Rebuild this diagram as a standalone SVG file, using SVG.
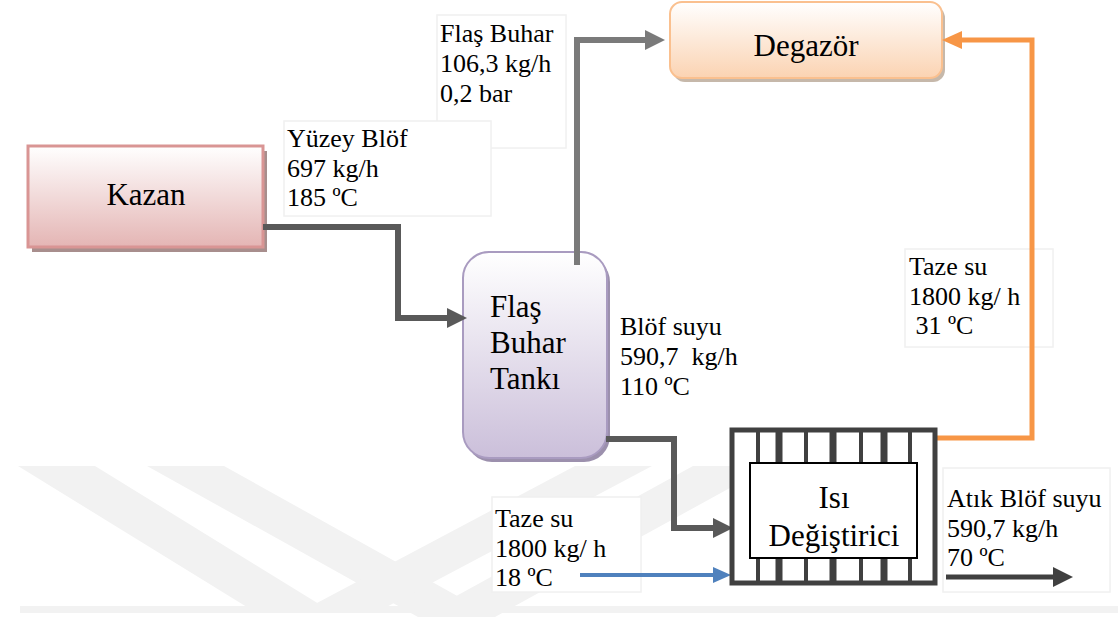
<svg xmlns="http://www.w3.org/2000/svg" width="1118" height="617" viewBox="0 0 1118 617">
<style>
.lbl{font-family:"Liberation Serif","Times New Roman",serif;font-size:26px;fill:#000}
.nd{font-family:"Liberation Serif","Times New Roman",serif;font-size:31px;fill:#000}
.lbox{fill:#fff;stroke:#f0f0f0;stroke-width:1.5}
.wm{fill:#f2f2f2}
.conn{fill:none;stroke-linejoin:miter}
</style>
<defs>
<linearGradient id="gKazan" x1="0" y1="0" x2="0" y2="1"><stop offset="0" stop-color="#ffffff"/><stop offset="1" stop-color="#e4b5b4"/></linearGradient>
<linearGradient id="gDeg" x1="0" y1="0" x2="0" y2="1"><stop offset="0" stop-color="#ffffff"/><stop offset="1" stop-color="#fbd3b2"/></linearGradient>
<linearGradient id="gTank" x1="0" y1="0" x2="0" y2="1"><stop offset="0" stop-color="#ffffff"/><stop offset="1" stop-color="#cbbfda"/></linearGradient>
<marker id="aDark" viewBox="0 0 20 20" refX="0" refY="10" markerWidth="20" markerHeight="20" markerUnits="userSpaceOnUse" orient="auto"><path d="M0,0 L20,10 L0,20 z" fill="#595959"/></marker>
<marker id="aMid" viewBox="0 0 20 20" refX="0" refY="10" markerWidth="20" markerHeight="20" markerUnits="userSpaceOnUse" orient="auto"><path d="M0,0 L20,10 L0,20 z" fill="#7a7a7a"/></marker>
<marker id="aOut" viewBox="0 0 20 20" refX="0" refY="10" markerWidth="20" markerHeight="20" markerUnits="userSpaceOnUse" orient="auto"><path d="M0,0 L20,10 L0,20 z" fill="#404040"/></marker>
<marker id="aOr" viewBox="0 0 20 18" refX="0" refY="9" markerWidth="20" markerHeight="18" markerUnits="userSpaceOnUse" orient="auto"><path d="M0,0 L20,9 L0,18 z" fill="#f79646"/></marker>
<marker id="aBl" viewBox="0 0 18 16" refX="0" refY="8" markerWidth="18" markerHeight="16" markerUnits="userSpaceOnUse" orient="auto"><path d="M0,0 L18,8 L0,16 z" fill="#4f81bd"/></marker>
</defs>

<g id="watermark">
<polygon class="wm" points="18,466 95,466 332,612 255,612"/>
<polygon class="wm" points="147,466 224,466 495,617 418,617"/>
<polygon class="wm" points="300,612 377,612 652,466 575,466"/>
<polygon class="wm" points="418,617 495,617 770,466 693,466"/>
<rect class="wm" x="20" y="606" width="1098" height="7"/>
</g>

<g id="labels">
<rect class="lbox" x="437" y="15" width="129" height="133"/>
<rect class="lbox" x="284" y="121" width="207" height="95"/>
<rect class="lbox" x="905" y="249" width="148" height="98"/>
<rect class="lbox" x="492" y="497" width="149" height="95"/>
<rect class="lbox" x="943" y="468" width="167" height="124"/>
<text class="lbl" x="440" y="42">Flaş Buhar</text>
<text class="lbl" x="440" y="72">106,3 kg/h</text>
<text class="lbl" x="440" y="102">0,2 bar</text>
<text class="lbl" x="287" y="147">Yüzey Blöf</text>
<text class="lbl" x="287" y="177">697 kg/h</text>
<text class="lbl" x="287" y="206">185 ºC</text>
<text class="lbl" x="620" y="335">Blöf suyu</text>
<text class="lbl" x="620" y="365" xml:space="preserve">590,7  kg/h</text>
<text class="lbl" x="620" y="395">110 ºC</text>
<text class="lbl" x="909" y="275">Taze su</text>
<text class="lbl" x="909" y="305">1800 kg/ h</text>
<text class="lbl" x="909" y="334" xml:space="preserve"> 31 ºC</text>
<text class="lbl" x="495" y="527">Taze su</text>
<text class="lbl" x="495" y="557">1800 kg/ h</text>
<text class="lbl" x="495" y="586">18 ºC</text>
<text class="lbl" x="947" y="507">Atık Blöf suyu</text>
<text class="lbl" x="947" y="537">590,7 kg/h</text>
<text class="lbl" x="947" y="566">70 ºC</text>
</g>

<g id="kazan">
<rect x="32" y="151" width="235" height="101" fill="#a88e8d"/>
<rect x="28" y="146" width="235" height="101" fill="url(#gKazan)" stroke="#d99594" stroke-width="3"/>
<text class="nd" x="146" y="205" text-anchor="middle">Kazan</text>
</g>

<g id="degazor">
<rect x="673" y="6" width="272" height="76" rx="12" fill="#c6b8aa"/>
<rect x="670" y="2" width="272" height="76" rx="12" fill="url(#gDeg)" stroke="#fac08f" stroke-width="2"/>
<text class="nd" x="806" y="56" text-anchor="middle">Degazör</text>
</g>

<g id="flas-tank">
<rect x="466" y="256" width="144" height="206" rx="26" fill="#9c90ad"/>
<rect x="463" y="252" width="144" height="206" rx="26" fill="url(#gTank)" stroke="#a99bc0" stroke-width="2"/>
<text class="nd" x="490" y="317">Flaş</text>
<text class="nd" x="490" y="353">Buhar</text>
<text class="nd" x="490" y="389">Tankı</text>
</g>

<g id="connectors">
<path class="conn" d="M263,227 H398 V318 H447" stroke="#595959" stroke-width="6" marker-end="url(#aDark)"/>
<path class="conn" d="M577,265 V40 H645" stroke="#7a7a7a" stroke-width="6" marker-end="url(#aMid)"/>
<path class="conn" d="M606,439 H674 V528 H713" stroke="#595959" stroke-width="6" marker-end="url(#aDark)"/>
<path class="conn" d="M580,575 H713" stroke="#4f81bd" stroke-width="4" marker-end="url(#aBl)"/>
<path class="conn" d="M937,438 H1032 V40 H962" stroke="#f79646" stroke-width="5" marker-end="url(#aOr)"/>
<path class="conn" d="M946,577 H1053" stroke="#404040" stroke-width="5" marker-end="url(#aOut)"/>
</g>

<g id="isi-degistirici">
<rect x="732" y="430" width="203" height="153" fill="#fff" stroke="#404040" stroke-width="5"/>
<g stroke="#404040">
<line x1="758" y1="430" x2="758" y2="583" stroke-width="4"/>
<line x1="779" y1="430" x2="779" y2="583" stroke-width="7"/>
<line x1="806" y1="430" x2="806" y2="583" stroke-width="4"/>
<line x1="833" y1="430" x2="833" y2="583" stroke-width="7"/>
<line x1="861" y1="430" x2="861" y2="583" stroke-width="4"/>
<line x1="884" y1="430" x2="884" y2="583" stroke-width="7"/>
<line x1="910" y1="430" x2="910" y2="583" stroke-width="4"/>
</g>
<rect x="750" y="463" width="167" height="95" fill="#fff" stroke="#000" stroke-width="2"/>
<text class="nd" x="834" y="508" text-anchor="middle">Isı</text>
<text class="nd" x="834" y="546" text-anchor="middle">Değiştirici</text>
</g>
</svg>
